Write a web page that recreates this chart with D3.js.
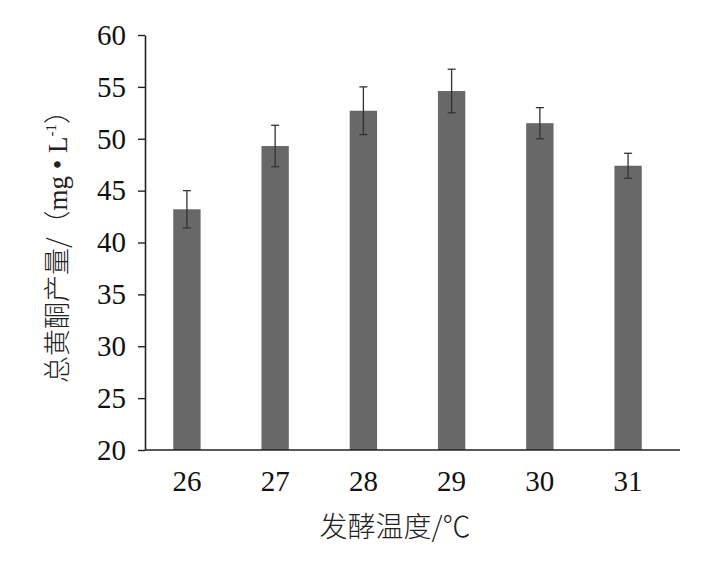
<!DOCTYPE html>
<html>
<head>
<meta charset="utf-8">
<script src="https://cdn.jsdelivr.net/npm/d3@7"></script>
<style>
  body { margin: 0; background: #fff; }
</style>
</head>
<body>
<div id="chart"></div>
<script>
const temps = ["26", "27", "28", "29", "30", "31"]
const yields = [43.2, 49.3, 52.7, 54.6, 51.5, 47.4]
const errs = [1.8, 2.0, 2.3, 2.1, 1.5, 1.2]
const yTicks = [20, 25, 30, 35, 40, 45, 50, 55, 60]

const svg = d3.select("#chart").append("svg")
    .attr("width", 727)
    .attr("height", 561)

const serif = "'Liberation Serif', 'Times New Roman', serif"
const cjk = "'Noto Sans CJK SC', sans-serif"

const x = d3.scaleBand().domain(temps).range([145, 670]).paddingInner(0.69).paddingOuter(0.32)
const y = d3.scaleLinear().domain([20, 60]).range([450, 35])

// bars
svg.selectAll(".bar")
    .data(temps)
    .join("rect")
    .attr("class", "bar")
    .attr("x", d => x(d))
    .attr("y", (d, i) => y(yields[i]))
    .attr("width", x.bandwidth())
    .attr("height", (d, i) => y(20) - y(yields[i]))
    .attr("fill", "#686868")

// error bars
const eb = svg.selectAll(".err")
    .data(temps)
    .join("g")
    .attr("class", "err")
    .attr("stroke", "#333")
    .attr("stroke-width", 1.3)

eb.append("line")
    .attr("x1", d => x(d) + x.bandwidth() / 2)
    .attr("x2", d => x(d) + x.bandwidth() / 2)
    .attr("y1", (d, i) => y(yields[i] + errs[i]))
    .attr("y2", (d, i) => y(yields[i] - errs[i]))
eb.append("line")
    .attr("x1", d => x(d) + x.bandwidth() / 2 - 4)
    .attr("x2", d => x(d) + x.bandwidth() / 2 + 4)
    .attr("y1", (d, i) => y(yields[i] + errs[i]))
    .attr("y2", (d, i) => y(yields[i] + errs[i]))
eb.append("line")
    .attr("x1", d => x(d) + x.bandwidth() / 2 - 4)
    .attr("x2", d => x(d) + x.bandwidth() / 2 + 4)
    .attr("y1", (d, i) => y(yields[i] - errs[i]))
    .attr("y2", (d, i) => y(yields[i] - errs[i]))

// y axis
const yAxis = svg.append("g")
    .attr("transform", "translate(145,0)")
    .call(d3.axisLeft(y).tickValues(yTicks).tickSize(7).tickSizeOuter(0))
    .attr("font-family", null)
yAxis.select(".domain").attr("stroke", "#222").attr("stroke-width", 1.6)
yAxis.selectAll(".tick line").attr("stroke", "#222").attr("stroke-width", 1.4)
yAxis.selectAll(".tick text")
    .attr("x", -19)
    .attr("fill", "#111")
    .attr("font-family", serif)
    .style("font-family", serif)
    .style("font-size", "29px")

// x axis
const xAxis = svg.append("g")
    .attr("transform", "translate(0,450)")
    .call(d3.axisBottom(x).tickSize(0).tickSizeOuter(0))
    .attr("font-family", null)
xAxis.select(".domain").remove()
xAxis.selectAll(".tick text")
    .attr("y", 20)
    .attr("fill", "#111")
    .attr("font-family", serif)
    .style("font-family", serif)
    .style("font-size", "29px")

// bottom axis line runs past the last band
xAxis.append("line")
    .attr("x1", 145)
    .attr("x2", 680)
    .attr("stroke", "#222")
    .attr("stroke-width", 1.6)

// axis titles
svg.append("text")
    .attr("x", 395)
    .attr("y", 537)
    .attr("text-anchor", "middle")
    .attr("fill", "#222")
    .style("font-size", "28px")
    .style("font-family", cjk)
    .style("font-weight", 300)
    .text("发酵温度/℃")

const yl = svg.append("text")
    .attr("transform", "translate(67,240) rotate(-90)")
    .attr("text-anchor", "middle")
    .attr("fill", "#222")
    .style("font-size", "27px")
    .style("font-family", cjk)
    .style("font-weight", 300)
yl.append("tspan").text("总黄酮产量/（")
yl.append("tspan").style("font-family", serif).style("font-size", "27px").text("mg • L")
yl.append("tspan").style("font-family", serif).style("font-size", "15px").attr("dy", -11).text("-1")
yl.append("tspan").attr("dy", 11).text("）")
</script>
</body>
</html>
